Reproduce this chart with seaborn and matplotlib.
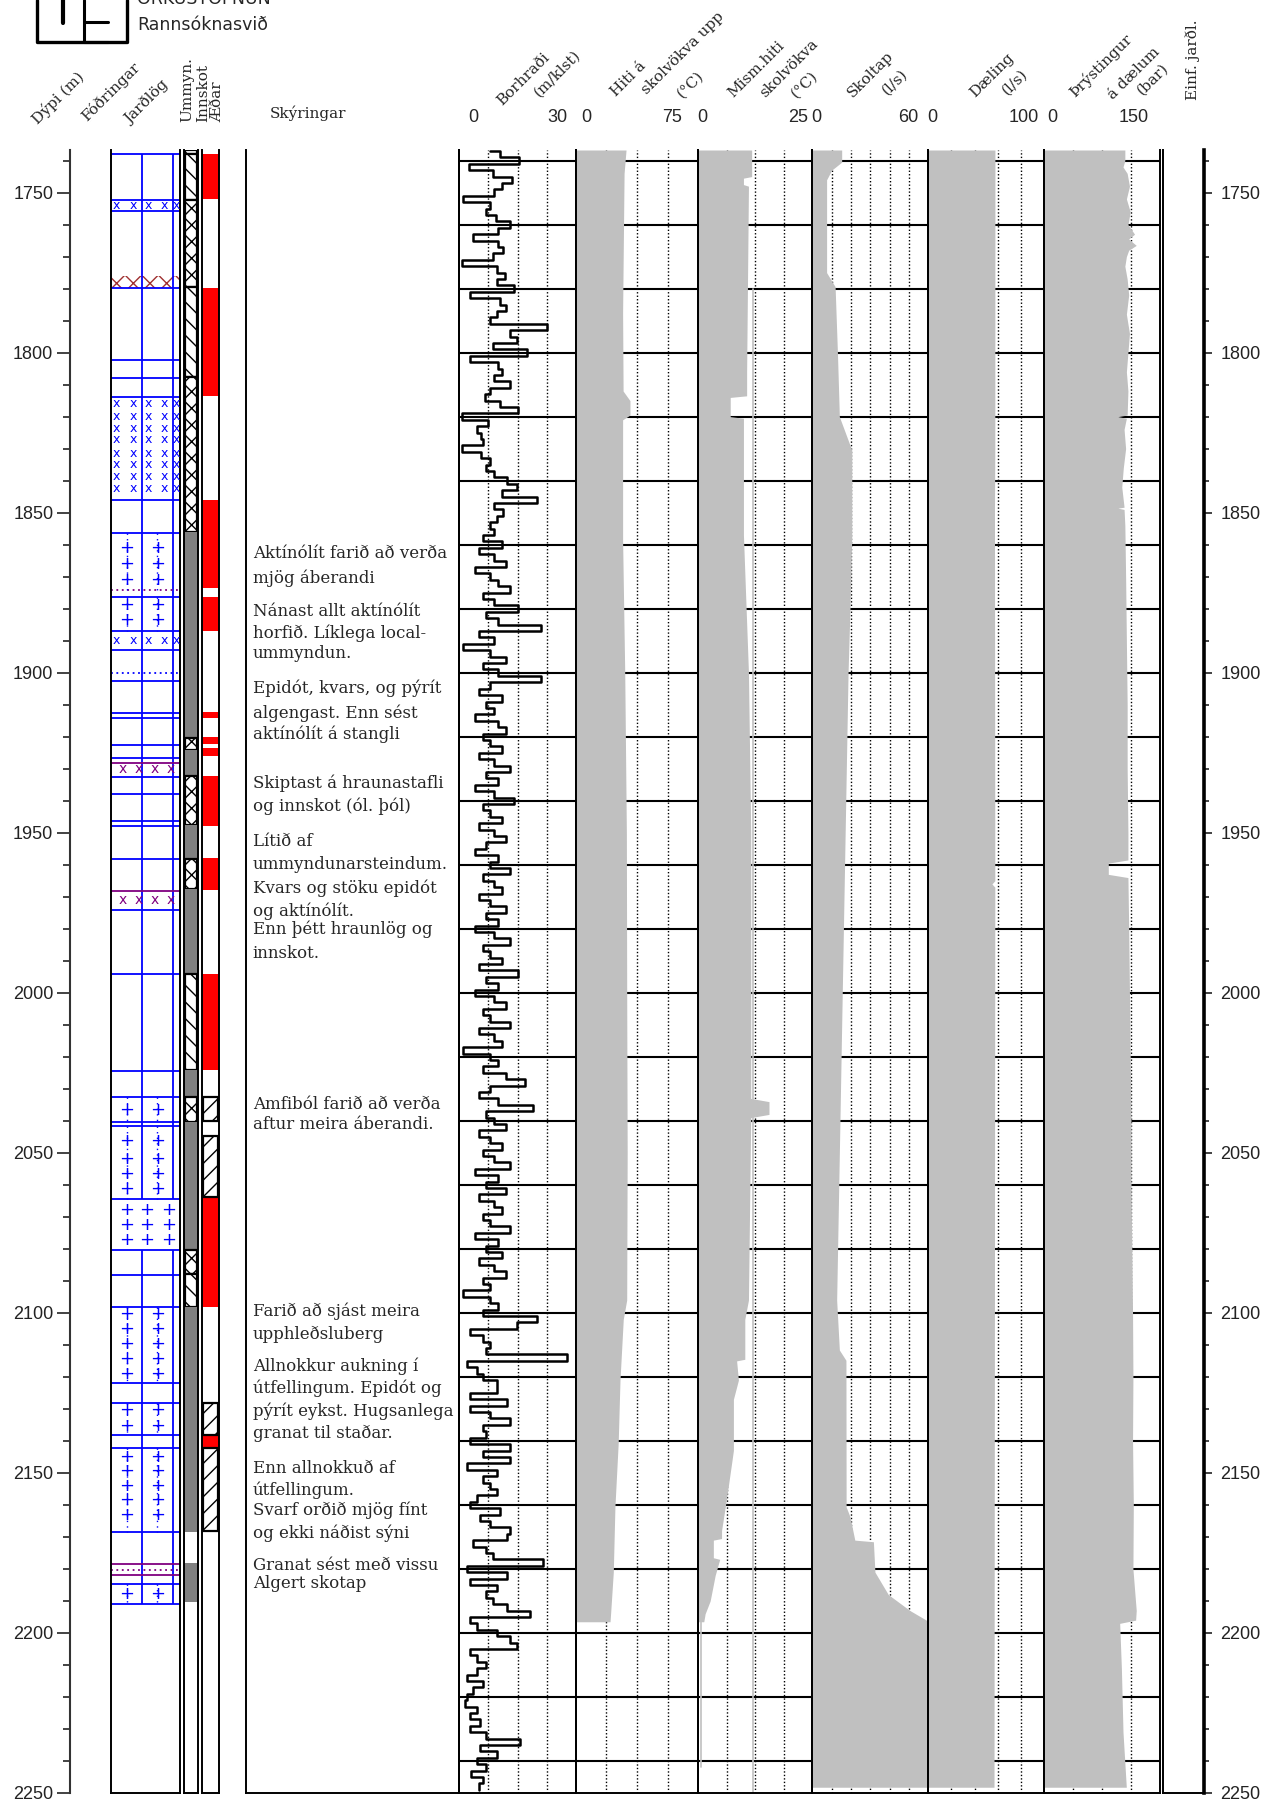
import numpy as np
import pandas as pd
import seaborn as sns
import matplotlib.pyplot as plt

sns.set_theme(style='white')
plt.rcParams['font.family'] = ['DejaVu Serif', 'DejaVu Sans']
plt.rcParams['hatch.linewidth'] = 1.0

W, H = 1279, 1805
Y_TOP, Y_BOT = 150, 1793          # pixel rows of log top and of 2250 m
D_TOP, D_BOT = 1736.7, 2250

# Borhraði (m/klst), one value per 2 m starting at 1737 m
rop = [
    8, 10.5, 15.5, 2.5, 8.8, 13.5, 11, 9, 1, 8,          # 1737
    7, 9.5, 13, 10, 3.6, 10, 11.3, 8.8, 0.6, 9.6,        # 1757
    11.8, 9.6, 14, 2.7, 10.5, 12, 9.6, 8, 22.5, 13,      # 1777
    14.8, 8.8, 17.4, 2.7, 10, 11, 9, 13, 8, 6.5,         # 1797
    10.5, 15, 0.6, 7.5, 4.5, 5.5, 6.2, 0.6, 5.5, 8,      # 1817
    7, 9, 12.2, 14.8, 11, 19.9, 9, 11.3, 9.6, 8,         # 1837
    9, 6, 11, 5, 9, 12, 4, 8, 10, 13,                    # 1857
    6, 9, 15, 7, 10, 21, 5, 9, 1, 8,                     # 1877
    12, 6, 10, 21, 8, 5, 11, 7, 9, 4,                    # 1897
    10, 12, 6, 8, 11, 5, 9, 13, 7, 10,                   # 1917
    4, 9, 14, 6, 8, 11, 5, 9, 12, 7,                     # 1937
    4, 10, 8, 13, 6, 9, 11, 5, 8, 12,                    # 1957
    7, 10, 4, 9, 13, 6, 8, 11, 5, 15,                    # 1977
    7, 10, 4, 9, 12, 6, 8, 13, 5, 9,                     # 1997
    11, 1, 8, 10, 6, 12, 17, 8, 5, 10,                   # 2017
    19, 7, 9, 12, 5, 8, 11, 6, 9, 13,                    # 2037
    4, 10, 7, 12, 5, 9, 11, 6, 8, 13,                    # 2057
    4, 10, 7, 11, 5, 9, 12, 6, 8, 1,                     # 2077
    8, 10, 6, 19.9, 14.8, 2.7, 6.2, 7.9, 7, 27.7,        # 2097
    2, 4.5, 6.2, 9.6, 9.6, 2.7, 12.2, 2.7, 7.9, 13,      # 2117
    6.2, 7, 2.7, 13, 6.2, 13, 2, 9.6, 6.2, 7.9,          # 2137
    9.6, 4.5, 2.7, 10.5, 5.3, 7.9, 13, 12.2, 3.6, 7,     # 2157
    8.8, 21.6, 2, 12.2, 2.7, 9.6, 7, 8.8, 12.2, 18.2,    # 2177
    2.7, 4.5, 9.6, 13, 14.8, 2.7, 4.5, 7, 4.5, 2,        # 2197
    6.2, 3.6, 2, 1.5, 4.5, 2.7, 5.3, 2.7, 7, 15.6,       # 2217
    5.3, 9.6, 4.5, 7, 3, 6, 5,                           # 2237
]
rop_depth = 1737 + 2 * np.arange(len(rop))

# Hiti á skolvökva upp (°C)
hiti_depth = [1736.7, 1744, 1787.6, 1812, 1815, 1819.5, 1821, 1858.5, 1900, 1950, 2000,
              2050, 2096, 2102, 2121, 2140.7, 2160.6, 2181, 2193.6, 2196.5]
hiti = [30.8, 29.6, 28.7, 29, 33.2, 33.2, 28.7, 28.7, 30, 31, 31.2,
        31.5, 31.2, 29.1, 27.1, 26, 24, 23, 21.4, 21]

# Mism. hiti skolvökva (°C)
mism_depth = [1736.7, 1745, 1745.5, 1747.5, 1748, 1806, 1813.5, 1814, 1820, 1820.5, 1857,
              1900, 1950, 2000, 2033, 2034, 2038, 2039, 2096, 2102, 2114.5, 2115, 2121,
              2127, 2143, 2158, 2168, 2170.5, 2171, 2176.5, 2177, 2182, 2190, 2194, 2196.5]
mism = [11.7, 11.7, 9.9, 9.9, 11, 10.6, 10.6, 7, 7, 9.9, 9.9,
        11, 11.5, 11.5, 11.5, 15.5, 15.5, 11.5, 11, 10.2, 10.2, 8.4, 8.8,
        7.7, 7.7, 6.2, 5.1, 5.1, 3.3, 3.3, 4.7, 3.7, 2.6, 1.5, 1.2]
mism_tail_depth = [2196.5, 2242]
mism_tail = [0.6, 0.6]
mism_ref_depth = [1780, 2250]
mism_ref = [11.9, 11.9]

# Skoltap (l/s)
skol_depth = [1736.7, 1740.5, 1743, 1746, 1775, 1779.4, 1800, 1820, 1830.4, 1857.7, 1880,
              1900, 1950, 2000, 2050, 2096, 2111.6, 2114.8, 2160.6, 2163.7, 2171, 2171.5,
              2181, 2188, 2193, 2196, 2197, 2248.2]
skol = [15.2, 15.2, 10, 7.4, 7.4, 11.8, 13, 14, 20.4, 20.4, 19.5,
        18.5, 17, 15.5, 14, 12.6, 14, 17.4, 17.5, 19.5, 22, 31.6,
        32.4, 39.3, 50.5, 59, 60, 60]

# Dæling (l/s)
dael_depth = [1736.7, 1830, 1850, 1965, 1966, 1967, 2248.2]
dael = [57.6, 57.5, 57.2, 57.5, 55, 57.5, 56.8]

# Þrýstingur á dælum (bar)
thr_depth = [1736.7, 1740, 1742, 1744, 1748, 1752, 1756, 1760, 1763, 1764.5, 1766.5, 1768,
             1770, 1773, 1777, 1782, 1788, 1794, 1800, 1806, 1812, 1819.5, 1820, 1820.5,
             1824, 1830, 1836, 1842, 1848.3, 1848.6, 1849, 1854, 1870, 1890, 1910, 1930,
             1950, 1958.5, 1959.5, 1963, 1964, 1980, 2000, 2020, 2040, 2060, 2080, 2100,
             2120, 2140, 2160, 2180, 2193, 2196, 2197, 2211, 2231, 2248.2]
thr = [105, 105, 102.6, 108, 111, 107, 112, 109, 117.6, 110, 119.8, 110,
       107, 105, 108, 110, 107, 111, 109, 107, 109, 108, 96, 107,
       104, 106, 103, 101, 104, 96, 104, 105, 106, 107, 108, 108,
       109, 109, 83.5, 83.5, 109, 110, 111, 112, 113, 113, 114, 115,
       115.5, 115, 116, 115.5, 119.8, 119, 98.3, 100.5, 102.6, 106.9]

# Jarðlög (lithology)
litho_blue = [1738.1, 1752.3, 1755.9, 1779.9, 1802.3, 1807.8, 1814, 1846.2, 1856.4, 1876.3,
              1887.1, 1893, 1902.5, 1912.5, 1914.3, 1922.6, 1926.5, 1932.5, 1937.9, 1946.3,
              1947.9, 1958.2, 1974.2, 1994.2, 2024.4, 2032.7, 2040.4, 2041.7, 2064.3, 2080.4,
              2088.2, 2098.3, 2122, 2128.3, 2138.2, 2142.2, 2168.4, 2184.6, 2190.8]
litho_purple = [1928.1, 1968.1, 2178.5, 2182]
litho_purple_dot = [1874.2, 2180.2]
litho_blue_dot = [1900.2]
litho_brown_band = (1776.2, 1779.9)
litho_split = [(1738.1, 2064.3), (2080.4, 2190.8)]
plus_bands = [(1856.4, 1874.2), (1876.3, 1887.1), (2032.7, 2040.4), (2041.7, 2064.3),
              (2098.3, 2122), (2128.3, 2138.2), (2142.2, 2168.4), (2184.6, 2190.8)]
plus2_rows = [1861, 1866, 1871, 1878.8, 1883.4, 2036.5, 2046.2, 2051.9, 2056.6, 2061.3,
              2100.2, 2104.9, 2109.6, 2114.3, 2119, 2130.4, 2135.4, 2145, 2149.5, 2154,
              2158.6, 2163.2, 2187.7]
plus3_rows = [2068, 2072.6, 2077.3]
xblue_rows = [1754, 1815.8, 1820, 1823.6, 1827.3, 1831.4, 1835.1, 1838.7, 1842.4, 1890]
xpurple_rows = [1930, 1971]

# Ummyndun / Innskot
umm_top = [1736.7, 1738.1, 1752.3, 1779.4, 1807.5, 1855.9, 1920.5, 1924, 1932.3, 1947.6,
           1958.3, 1967.7, 1994.2, 2024, 2032.7, 2040.4, 2080.4, 2088, 2098.2, 2178.3]
umm_bot = [1738.1, 1752.3, 1779.4, 1807.5, 1855.9, 1920.5, 1924, 1932.3, 1947.6, 1958.3,
           1967.7, 1994.2, 2024, 2032.7, 2040.4, 2080.4, 2088, 2098.2, 2168.4, 2190.3]
umm_kind = ['x', '\\', 'x', '\\', 'x', 'g', 'x', 'g', 'x', 'g',
            'x', 'g', '\\', 'g', 'x', 'g', 'x', '\\', 'g', 'g']

# Æðar
aed_red_top = [1738, 1779.9, 1846, 1876.3, 1912.2, 1920, 1923.6, 1932.3, 1958, 1994, 2063.8, 2138]
aed_red_bot = [1752, 1813.7, 1873.6, 1887.1, 1914, 1922.3, 1926, 1947.9, 1967.9, 2024.2, 2098.2, 2142.2]
aed_hatch_top = [2032.7, 2044.7, 2128.3, 2142.2]
aed_hatch_bot = [2040, 2063.8, 2138, 2168.1]

# Skýringar
skyr_text = ["Aktínólít farið að verða", "mjög áberandi", "Nánast allt aktínólít",
             "horfið. Líklega local-", "ummyndun.", "Epidót, kvars, og pýrít",
             "algengast. Enn sést", "aktínólít á stangli", "Skiptast á hraunastafli",
             "og innskot (ól. þól)", "Lítið af", "ummyndunarsteindum.",
             "Kvars og stöku epidót", "og aktínólít.", "Enn þétt hraunlög og", "innskot.",
             "Amfiból farið að verða", "aftur meira áberandi.", "Farið að sjást meira",
             "upphleðsluberg", "Allnokkur aukning í", "útfellingum. Epidót og",
             "pýrít eykst. Hugsanlega", "granat til staðar.", "Enn allnokkuð af",
             "útfellingum.", "Svarf orðið mjög fínt", "og ekki náðist sýni",
             "Granat sést með vissu", "Algert skotap"]
skyr_depth = [1864.2, 1871.9, 1882.3, 1889.1, 1895.3, 1906.3, 1914.1, 1920.8, 1935.9, 1943.2,
              1954.2, 1961.4, 1968.75, 1976, 1981.75, 1989.1, 2036.4, 2042.7, 2101, 2108.3,
              2118.2, 2125, 2132.3, 2139.1, 2150, 2156.75, 2163, 2170.3, 2180.2, 2185.9]

grid_depths = np.arange(1740, 2250, 20)

# ---------------- figure ----------------
fig = plt.figure(figsize=(W / 100, H / 100), dpi=100)
GREY = '#C0C0C0'

hdr = fig.add_axes([0, 0, 1, 1])
hdr.set_xlim(0, W)
hdr.set_ylim(H, 0)
hdr.axis('off')


def panel(x0, x1, bottom=True):
    ax = fig.add_axes([x0 / W, 1 - Y_BOT / H, (x1 - x0) / W, (Y_BOT - Y_TOP) / H])
    ax.set_ylim(D_BOT, D_TOP)
    ax.set_xticks([])
    ax.set_yticks([])
    ax.set_facecolor('none')
    for s in ax.spines.values():
        s.set_color('black')
        s.set_linewidth(1.4)
    ax.spines['top'].set_visible(False)
    ax.spines['bottom'].set_visible(bottom)
    return ax


def track(x0, x1, vmax, ndiv):
    ax = panel(x0, x1)
    ax.set_xlim(0, vmax)
    for k in range(1, ndiv):
        ax.axvline(vmax * k / ndiv, color='black', lw=1, ls=(0, (1, 1.5)), zorder=0.5)
    ax.hlines(grid_depths, 0, vmax, color='black', lw=1.5, zorder=0.6)
    return ax


# depth axis (left)
axd = fig.add_axes([70 / W, 1 - Y_BOT / H, 30 / W, (Y_BOT - Y_TOP) / H])
axd.set_ylim(D_BOT, D_TOP)
axd.set_facecolor('none')
axd.set_xticks([])
for s in ['top', 'right', 'bottom']:
    axd.spines[s].set_visible(False)
axd.spines['left'].set_linewidth(1.5)
axd.spines['left'].set_color('#333333')
axd.set_yticks(np.arange(1750, 2251, 50))
axd.set_yticks(np.arange(1740, 2250, 10), minor=True)
axd.tick_params(axis='y', which='major', left=True, length=9.5, width=1.2, pad=2.5,
                labelsize=13, colors='#222222', labelfontfamily='Liberation Sans')
axd.tick_params(axis='y', which='minor', left=True, length=5, width=1.2, colors='#222222')

# lithology
axl = panel(110.7, 180)
axl.set_xlim(0, 1)
for a, b in litho_split:
    axl.vlines([0.447, 0.903], a, b, color='#0000FF', lw=1.3)
axl.barh((litho_brown_band[0] + litho_brown_band[1]) / 2, 1, left=0,
         height=litho_brown_band[1] - litho_brown_band[0], color='white',
         edgecolor='#A03030', hatch='xx', lw=0)
axl.hlines(litho_blue, 0, 1, color='#0000FF', lw=1.3)
axl.hlines(litho_purple, 0, 1, color='#800080', lw=1.3)
axl.hlines(litho_purple_dot, 0, 1, color='#800080', lw=1.3, ls=(0, (1, 2)))
axl.hlines(litho_blue_dot, 0, 1, color='#0000FF', lw=1.3, ls=(0, (1, 2)))
for a, b in plus_bands:
    if b - a > 6:
        axl.vlines([0.23, 0.67], a, b, color='#0000FF', lw=1, ls=(0, (1, 3)))
for d in plus2_rows:
    for xx in [0.23, 0.67]:
        axl.text(xx, d, '+', color='#0000FF', ha='center', va='center', fontsize=13,
                 family='DejaVu Sans')
for d in plus3_rows:
    for xx in [0.23, 0.52, 0.83]:
        axl.text(xx, d, '+', color='#0000FF', ha='center', va='center', fontsize=13,
                 family='DejaVu Sans')
for d in xblue_rows:
    for xx in [0.087, 0.327, 0.543, 0.774, 0.952]:
        axl.text(xx, d, 'x', color='#0000FF', ha='center', va='center', fontsize=9,
                 family='DejaVu Sans')
for d in xpurple_rows:
    for xx in [0.18, 0.40, 0.63, 0.86]:
        axl.text(xx, d, 'x', color='#800080', ha='center', va='center', fontsize=10,
                 family='DejaVu Sans')

# ummyndun / innskot
axu = panel(183.7, 197.7)
axu.set_xlim(0, 1)
for t, b, k in zip(umm_top, umm_bot, umm_kind):
    if k == 'g':
        axu.barh((t + b) / 2, 1, left=0, height=b - t, color='#808080', lw=0)
    else:
        axu.barh((t + b) / 2, 0.86, left=0.07, height=b - t, color='white', edgecolor='black',
                 hatch='\\\\' if k == '\\' else 'xx', lw=1.6)

# æðar
axa = panel(201.7, 219)
axa.set_xlim(0, 1)
for t, b in zip(aed_red_top, aed_red_bot):
    axa.barh((t + b) / 2, 1, left=0, height=b - t, color='#FF0000', lw=0)
for t, b in zip(aed_hatch_top, aed_hatch_bot):
    axa.barh((t + b) / 2, 0.86, left=0.07, height=b - t, color='white', edgecolor='black',
             hatch='//', lw=1.6)

# skýringar
axt = panel(246, 459.3)
axt.set_xlim(0, 1)
for s, d in zip(skyr_text, skyr_depth):
    axt.text(0.031, d, s, ha='left', va='baseline', fontsize=12, family='DejaVu Serif')

# Borhraði
ax1 = track(459.3, 575.7, 30, 4)
sns.lineplot(x=rop, y=rop_depth, ax=ax1, orient='y', estimator=None, color='black',
             lw=1.8, drawstyle='steps-post', zorder=3)

# Hiti
ax2 = track(575.7, 698.3, 75, 4)
ax2.fill_betweenx(hiti_depth, 0, hiti, color=GREY, lw=0, zorder=1)

# Mism. hiti
ax3 = track(698.3, 812.3, 25, 4)
ax3.fill_betweenx(mism_depth, 0, mism, color=GREY, lw=0, zorder=1)
sns.lineplot(x=mism_tail, y=mism_tail_depth, ax=ax3, orient='y', estimator=None,
             color=GREY, lw=1.2, zorder=1)
sns.lineplot(x=mism_ref, y=mism_ref_depth, ax=ax3, orient='y', estimator=None,
             color=GREY, lw=1.2, zorder=1)

# Skoltap
ax4 = track(812.3, 928.3, 60, 6)
ax4.fill_betweenx(skol_depth, 0, skol, color=GREY, lw=0, zorder=1)

# Dæling
ax5 = track(928.3, 1044, 100, 5)
ax5.fill_betweenx(dael_depth, 0, dael, color=GREY, lw=0, zorder=1)

# Þrýstingur
ax6 = track(1044, 1159.5, 150, 4)
ax6.fill_betweenx(thr_depth, 0, thr, color=GREY, lw=0, zorder=1)

for ax in [ax1, ax2, ax3, ax4, ax5, ax6]:
    ax.set_xlabel('')
    ax.set_ylabel('')
    ax.set_ylim(D_BOT, D_TOP)
    ax.set_yticks([])

# Einf. jarðl. column with right depth axis
axr = panel(1162.7, 1203.5)
axr.spines['right'].set_linewidth(2.6)
axr.set_yticks(np.arange(1750, 2251, 50))
axr.set_yticks(np.arange(1740, 2250, 10), minor=True)
axr.tick_params(axis='y', which='both', left=False, right=True, labelleft=False,
                labelright=True)
axr.tick_params(axis='y', which='major', length=6, width=1.2, pad=6, labelsize=13,
                colors='#222222', labelfontfamily='Liberation Sans')
axr.tick_params(axis='y', which='minor', length=3.6, width=1.2)

# ---------------- header ----------------
hdr.plot([37, 37, 127, 127], [0, 41.7, 41.7, 0], color='black', lw=2.4)
hdr.plot([63, 63], [0, 23], color='black', lw=3)
hdr.plot([84, 84, 108], [0, 41.7, 41.7], color='black', lw=2.2)
hdr.plot([84, 108], [22, 22], color='black', lw=2.2)
hdr.text(137, 4, 'ORKUSTOFNUN', fontsize=12.5, family='DejaVu Sans', va='baseline')
hdr.text(137, 25, 'Rannsóknasvið', fontsize=12.5, family='DejaVu Sans', va='center')

rot_titles = [
    (38, 125, 'Dýpi (m)'), (87, 122, 'Fóðringar'), (130, 125, 'Jarðlög'),
    (502, 106, 'Borhraði'), (539, 97, '(m/klst)'),
    (616, 97, 'Hiti á'), (647, 95, 'skolvökva upp'), (682, 98, '(°C)'),
    (733, 98, 'Mism.hiti'), (765, 98, 'skolvökva'), (796, 98, '(°C)'),
    (853, 98, 'Skoltap'), (887, 95, '(l/s)'),
    (975, 98, 'Dæling'), (1007, 95, '(l/s)'),
    (1075, 98, 'Þrýstingur'), (1113, 100, 'á dælum'), (1142, 95, '(bar)'),
]
for x, y, s in rot_titles:
    hdr.text(x, y, s, rotation=45, rotation_mode='anchor', ha='left', va='baseline',
             fontsize=11, family='DejaVu Serif')
for x, y, s in [(187, 122, 'Ummyn.'), (203, 122, 'Innskot'), (217, 122, 'Æðar'),
                (1193, 100, 'Einf. jarðl.')]:
    hdr.text(x, y, s, rotation=90, rotation_mode='anchor', ha='left', va='center',
             fontsize=11, family='DejaVu Serif')
hdr.text(269.6, 113, 'Skýringar', ha='left', va='center', fontsize=11, family='DejaVu Serif')

for x, s in [(473.6, '0'), (557.4, '30'), (586, '0'), (672, '75'), (702.4, '0'),
             (798, '25'), (816.3, '0'), (908, '60'), (932.3, '0'), (1024, '100'),
             (1052.4, '0'), (1134, '150')]:
    hdr.text(x, 117, s, ha='center', va='center', fontsize=13, family='Liberation Sans')

fig.savefig('out.png', dpi=100)
